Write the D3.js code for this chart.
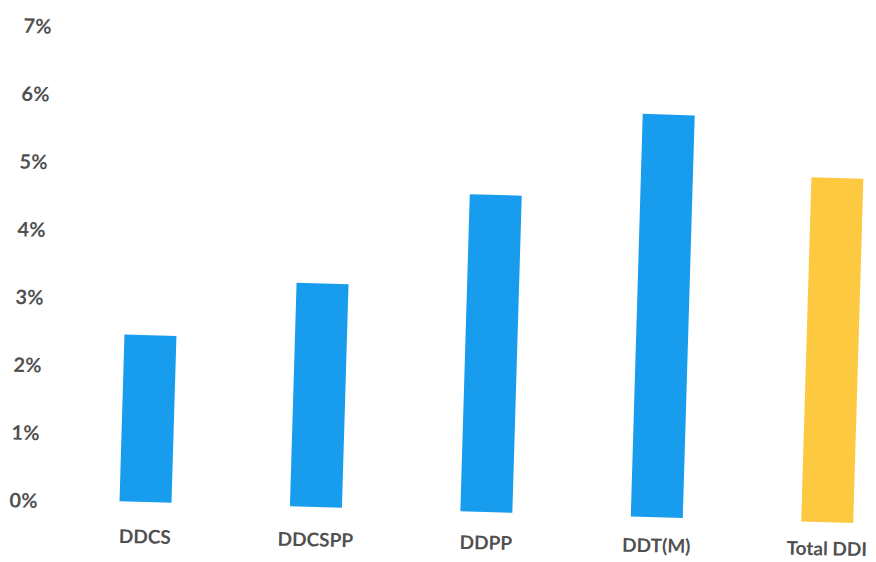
<!DOCTYPE html>
<html>
<head>
<meta charset="utf-8">
<script src="https://cdn.jsdelivr.net/npm/d3@7"></script>
<style>
  html, body { margin: 0; padding: 0; background: #ffffff; }
  svg { display: block; }
  text { font-family: Lato, "Open Sans", sans-serif; font-weight: 700; }
</style>
</head>
<body>
<svg id="chart" width="876" height="562"></svg>
<script>
// ---- data ----
const categories = ["DDCS", "DDCSPP", "DDPP", "DDT(M)", "Total DDI"];
const values = [2.46, 3.30, 4.68, 5.94, 5.08];           // percent
const barColors = ["#189DEE", "#189DEE", "#189DEE", "#189DEE", "#FDC940"];
const yTicks = [0, 1, 2, 3, 4, 5, 6, 7];
const yMax = 7;

// ---- layout ----
const svg = d3.select("#chart");
const plotLeft = 60, plotRight = 913;
const baseY = 502, topY = 27.4;

// the reference is a slightly rotated scan
const g = svg.append("g").attr("transform", "rotate(1.7,146,502)");
const gl = svg.append("g").attr("transform", "rotate(1.0,146,502)");

const x = d3.scaleBand()
  .domain(categories)
  .range([plotLeft, plotRight])
  .paddingInner(0.695)
  .paddingOuter(0.349);

const y = d3.scaleLinear().domain([0, yMax]).range([baseY, topY]);

// y axis (labels only)
const yAxis = d3.axisLeft(y)
  .tickValues(yTicks)
  .tickSize(0)
  .tickPadding(22.5)
  .tickFormat(d => d + "%");
const ya = g.append("g").attr("transform", `translate(${plotLeft},0)`).call(yAxis);
ya.select(".domain").remove();
ya.selectAll("text")
  .attr("dy", "0.44em")
  .style("font-size", "20px")
  .style("font-family", "Lato, 'Open Sans', sans-serif")
  .style("font-weight", "700")
  .attr("fill", "#505050");

// bars
g.selectAll("rect.bar")
  .data(categories)
  .join("rect")
  .attr("class", "bar")
  .attr("x", d => x(d))
  .attr("width", x.bandwidth())
  .attr("y", (d, i) => y(values[i]))
  .attr("height", (d, i) => y(0) - y(values[i]))
  .attr("fill", (d, i) => barColors[i]);

// x axis (labels only)
const xAxis = d3.axisBottom(x).tickSize(0).tickPadding(28);
const xa = gl.append("g").attr("transform", `translate(0,${baseY})`).call(xAxis);
xa.select(".domain").remove();
xa.selectAll("text")
  .style("font-size", "19px")
  .style("font-family", "Lato, 'Open Sans', sans-serif")
  .style("font-weight", "700")
  .attr("fill", "#505050");
</script>
</body>
</html>
